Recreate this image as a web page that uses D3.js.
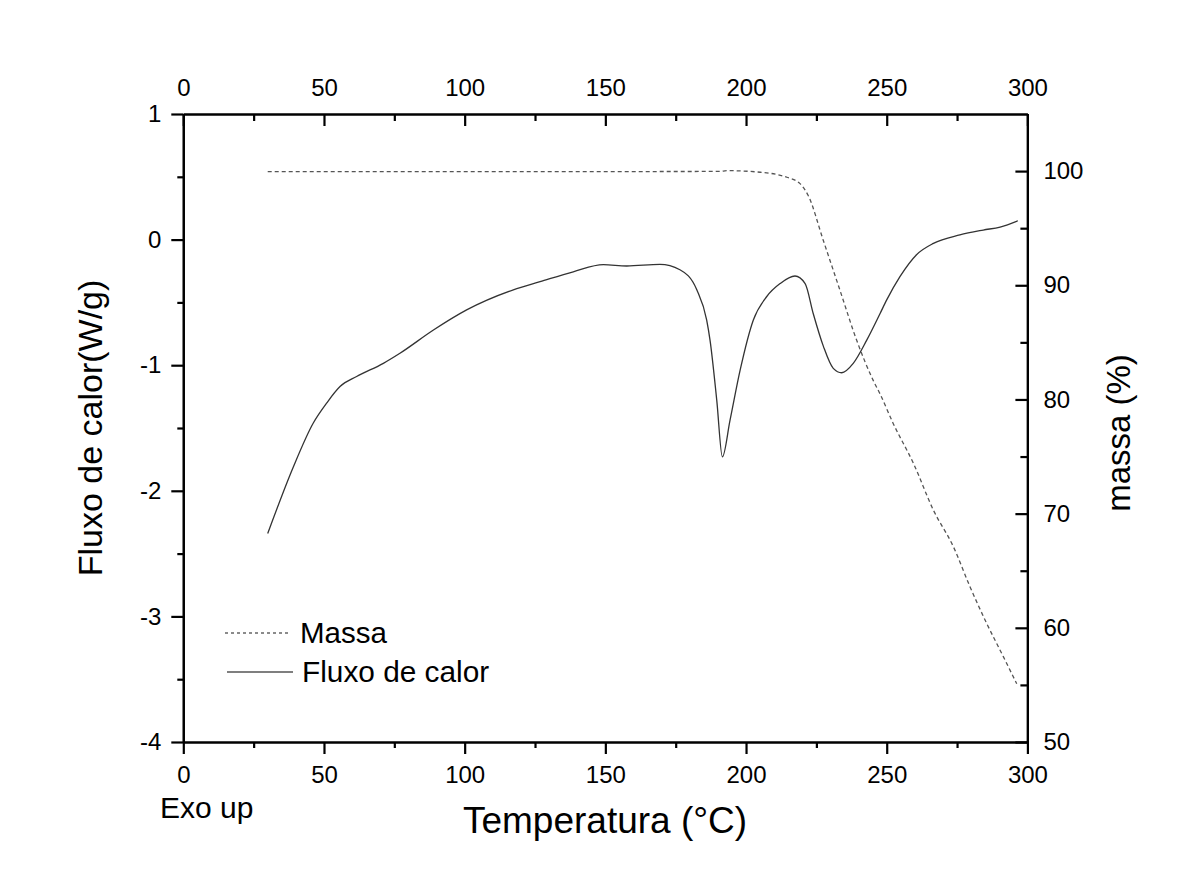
<!DOCTYPE html>
<html><head><meta charset="utf-8">
<script src="https://cdn.jsdelivr.net/npm/d3@7/dist/d3.min.js"></script>
<style>html,body{margin:0;padding:0;background:#fff;}svg{display:block;font-family:Arial,"Liberation Sans",sans-serif;}</style>
</head><body>
<svg id="c" width="1183" height="883"></svg>
<script>
// Heat flow (W/g) vs temperature (°C)
const fluxTemp = [30,39.1,46.2,51.0,55.7,61.6,71.1,77.0,88.9,100.7,117.3,126.8,138.6,149.3,157.6,169.4,176.5,182.5,186.0,187.2,189.6,191.6,194.3,197.9,202.6,207.3,212.1,217.4,221.0,223.9,227.5,231.0,234.0,238.1,242.9,247.6,250.0,254.7,260.6,266.6,276.0,284.3,290.3,296.6];
const fluxValues = [-2.34,-1.81,-1.46,-1.30,-1.17,-1.09,-0.985,-0.905,-0.72,-0.56,-0.40,-0.335,-0.256,-0.20,-0.21,-0.197,-0.24,-0.40,-0.64,-0.80,-1.28,-1.73,-1.44,-1.04,-0.64,-0.455,-0.35,-0.29,-0.35,-0.59,-0.85,-1.025,-1.06,-0.985,-0.80,-0.59,-0.48,-0.295,-0.12,-0.03,0.037,0.076,0.10,0.15];
// Mass (%) vs temperature (°C)
const massTemp = [30,100,150,190.8,193.1,205.0,214.5,219.2,222.1,227.5,233.4,239.3,245.2,247.6,252.3,259.5,266.6,273.7,279.6,285.5,291.4,296.2];
const massValues = [99.96,99.96,99.96,99.97,100.04,99.9,99.46,98.9,97.86,93.9,89.55,85.2,81.67,80.5,77.9,74.4,70.3,67.1,63.6,60.4,57.5,55.1];

const xTicks = [0,50,100,150,200,250,300];
const xMinor = [25,75,125,175,225,275];
const yLeftTicks = [-4,-3,-2,-1,0,1];
const yLeftMinor = [-3.5,-2.5,-1.5,-0.5,0.5];
const yRightTicks = [50,60,70,80,90,100];
const yRightMinor = [55,65,75,85,95];

const L = 183.3, R = 1027.4, T = 114, B = 742;
const svg = d3.select("#c");
const x = d3.scaleLinear().domain([0,300]).range([L,R]);
const yL = d3.scaleLinear().domain([-4,1]).range([B,T]);
const yR = d3.scaleLinear().domain([50,105]).range([B,T]);

function styleAxis(g){
  g.select(".domain").attr("stroke","#000").attr("stroke-width",2.2);
  g.selectAll(".tick line").attr("stroke","#000").attr("stroke-width",2.2);
  g.selectAll("text").attr("font-size",24).attr("fill","#000").attr("font-family","Arial, 'Liberation Sans', sans-serif");
}
// minor axes first
svg.append("g").attr("transform",`translate(0,${B})`).call(d3.axisBottom(x).tickValues(xMinor).tickSize(6).tickFormat("").tickSizeOuter(0)).call(styleAxis);
svg.append("g").attr("transform",`translate(0,${T})`).call(d3.axisTop(x).tickValues(xMinor).tickSize(-7).tickFormat("").tickSizeOuter(0)).call(styleAxis);
svg.append("g").attr("transform",`translate(${L},0)`).call(d3.axisLeft(yL).tickValues(yLeftMinor).tickSize(6).tickFormat("").tickSizeOuter(0)).call(styleAxis);
svg.append("g").attr("transform",`translate(${R},0)`).call(d3.axisRight(yR).tickValues(yRightMinor).tickSize(-7).tickFormat("").tickSizeOuter(0)).call(styleAxis);
// major axes
const gb = svg.append("g").attr("transform",`translate(0,${B})`).call(d3.axisBottom(x).tickValues(xTicks).tickSize(12).tickPadding(12).tickSizeOuter(0)).call(styleAxis);
const gt = svg.append("g").attr("transform",`translate(0,${T})`).call(d3.axisTop(x).tickValues(xTicks).tickSize(-12).tickPadding(18).tickSizeOuter(0)).call(styleAxis);
gt.selectAll(".tick text").attr("y",-18);
const gl = svg.append("g").attr("transform",`translate(${L},0)`).call(d3.axisLeft(yL).tickValues(yLeftTicks).tickSize(12).tickPadding(10).tickFormat(d3.format("d")).tickSizeOuter(0)).call(styleAxis);
gl.selectAll(".tick text").text(d=>String(d).replace("−","-"));
const gr = svg.append("g").attr("transform",`translate(${R},0)`).call(d3.axisRight(yR).tickValues(yRightTicks).tickSize(-12).tickSizeOuter(0)).call(styleAxis);
gr.selectAll(".tick text").attr("x",16);

// curves
const fluxData = fluxTemp.map((t,i)=>[t,fluxValues[i]]);
const massData = massTemp.map((t,i)=>[t,massValues[i]]);
svg.append("path").datum(massData)
  .attr("d",d3.line().x(d=>x(d[0])).y(d=>yR(d[1])).curve(d3.curveMonotoneX))
  .attr("fill","none").attr("stroke","#555").attr("stroke-width",1.3).attr("stroke-dasharray","4,3");
svg.append("path").datum(fluxData)
  .attr("d",d3.line().x(d=>x(d[0])).y(d=>yL(d[1])).curve(d3.curveMonotoneX))
  .attr("fill","none").attr("stroke","#333").attr("stroke-width",1.3);

// legend
svg.append("line").attr("x1",225).attr("x2",290).attr("y1",633).attr("y2",633).attr("stroke","#666").attr("stroke-width",1.3).attr("stroke-dasharray","3,3");
svg.append("text").attr("x",300).attr("y",643).attr("font-size",29.5).text("Massa");
svg.append("line").attr("x1",227).attr("x2",293).attr("y1",672).attr("y2",672).attr("stroke","#555").attr("stroke-width",1.3);
svg.append("text").attr("x",302).attr("y",682).attr("font-size",29.8).text("Fluxo de calor");

// titles
svg.append("text").attr("x",605).attr("y",833).attr("text-anchor","middle").attr("font-size",37).text("Temperatura (°C)");
svg.append("text").attr("x",160).attr("y",818).attr("font-size",30).text("Exo up");
svg.append("text").attr("transform","translate(102,428) rotate(-90)").attr("text-anchor","middle").attr("font-size",34).text("Fluxo de calor(W/g)");
svg.append("text").attr("transform","translate(1130,433) rotate(-90)").attr("text-anchor","middle").attr("font-size",33).text("massa (%)");
</script>
</body></html>
